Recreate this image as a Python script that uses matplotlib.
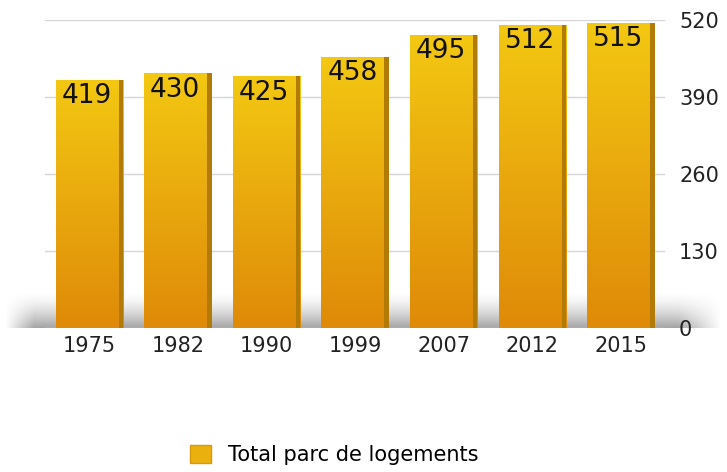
import numpy as np
import matplotlib.pyplot as plt
from matplotlib.colors import LinearSegmentedColormap
from matplotlib.patches import Patch

annees = ["1975", "1982", "1990", "1999", "2007", "2012", "2015"]
logements = [419, 430, 425, 458, 495, 512, 515]
graduations = [0, 130, 260, 390, 520]

fig = plt.figure(figsize=(7.27, 4.72), dpi=100)
ax = fig.add_axes([0.062, 0.305, 0.853, 0.653])

x = np.arange(len(annees))
largeur = 0.76

# degradé jaune -> orange des barres
degrade = LinearSegmentedColormap.from_list("or", ["#df8a08", "#e9a90e", "#f3c812"])
grad = np.linspace(0, 1, 256).reshape(-1, 1)

# ombre grise au pied des barres (fondu vers le haut et sur les bords)
hy = np.linspace(0, 1, 80)
hx = np.linspace(0, 1, 400)
alpha_v = np.clip(1 - hy, 0, 1) ** 1.6
alpha_h = np.clip(hx / 0.04, 0, 1) * np.clip((1 - hx) / 0.06, 0, 1)
ombre = np.zeros((80, 400, 4))
ombre[..., :3] = 0.55
ombre[..., 3] = 0.8 * alpha_v[:, None] * alpha_h[None, :]
ax.imshow(ombre, aspect="auto", origin="lower",
          extent=(-0.065, 1.09, 0.0, 0.12), transform=ax.transAxes,
          clip_on=False, zorder=0, interpolation="bilinear")

barres = ax.bar(x, logements, width=largeur, color="none", zorder=3)
for b, v in zip(barres, logements):
    x0 = b.get_x()
    w = b.get_width()
    img = ax.imshow(grad, cmap=degrade, aspect="auto", origin="lower",
                    extent=(x0, x0 + w, 0, v), zorder=3)
    img.set_clip_path(b)
    # face latérale plus sombre
    ax.bar(x0 + w - 0.05, v, width=0.05, align="edge", color="#b27a06", zorder=4)
    ax.text(x0 + w / 2 - 0.03, v - 6, str(v), ha="center", va="top",
            fontsize=19, color="#111111", zorder=5)

ax.set_xlim(-0.5, len(annees) - 0.5)
ax.set_ylim(0, 520)
ax.set_xticks(x)
ax.set_xticklabels(annees, fontsize=15, color="#222222")
ax.yaxis.tick_right()
ax.set_yticks(graduations)
ax.set_yticklabels([str(g) for g in graduations], fontsize=15, color="#222222")
ax.tick_params(length=0, pad=10)
ax.tick_params(axis="x", pad=6)
ax.grid(axis="y", color="#d6d6d6", linewidth=1, zorder=1)
ax.set_axisbelow(True)
for s in ax.spines.values():
    s.set_visible(False)

fig.legend(handles=[Patch(facecolor="#eab00e", edgecolor="#d69a0a")],
           labels=["Total parc de logements"], loc="lower center",
           bbox_to_anchor=(0.46, -0.025), frameon=False, fontsize=15,
           handlelength=1.0, handleheight=1.0, handletextpad=0.8)

fig.savefig("out.png", dpi=100, facecolor="white")
